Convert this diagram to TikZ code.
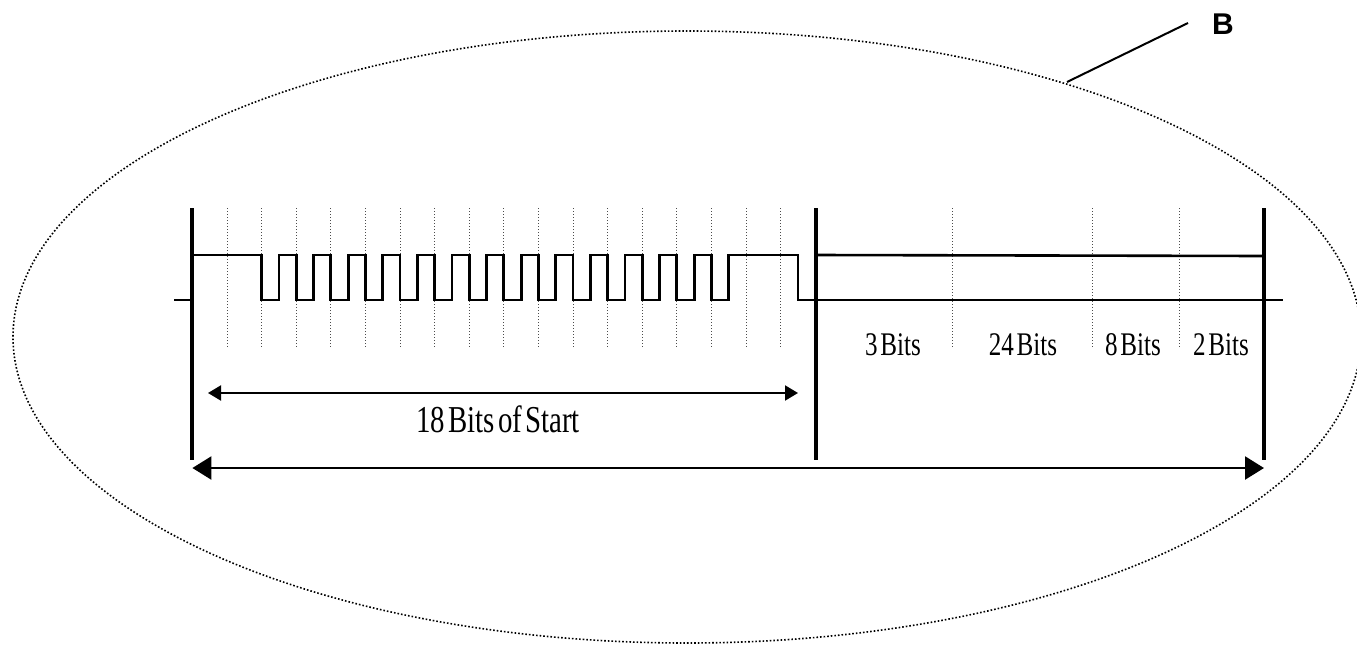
\documentclass[tikz,border=0pt]{standalone}
\usepackage{fontspec}
\setmainfont{Liberation Serif}
\newfontfamily\narrowserif[FakeStretch=0.76,WordSpace=0.45]{Liberation Serif}
\newfontfamily\labelsans{Liberation Sans}
\usetikzlibrary{arrows.meta}
\tikzset{
  bar/.style={line width=4pt},
  sig/.style={line width=2.8pt},
  grid/.style={line width=1pt,dotted,black!70},
  bits/.style={anchor=base,inner sep=0pt,font=\narrowserif\fontsize{33}{36}\selectfont},
  span/.style={line width=2pt,{Triangle[length=13pt,width=15pt]}-{Triangle[length=13pt,width=15pt]}},
  total/.style={line width=2.4pt,{Triangle[length=19pt,width=23pt]}-{Triangle[length=19pt,width=23pt]}}
}
\begin{document}
\begin{tikzpicture}[x=1pt,y=-1pt]
    \useasboundingbox (0,0) rectangle (1357,646);
    \draw[line width=1.6pt,dotted] (687,337) ellipse (674 and 306);
    % frame of the word
    \coordinate (S1) at (192.4,208); \coordinate (S2) at (192.4,460);
    \coordinate (M1) at (816,208);   \coordinate (M2) at (816,460);
    \coordinate (E1) at (1264,208);  \coordinate (E2) at (1264,460);
    \foreach \k in {1,...,17}
      \draw[grid] (192.4+\k*34.6,208) -- (192.4+\k*34.6,347);
    \foreach \x in {952,1092,1179}
      \draw[grid] (\x,208) -- (\x,347);
    \draw[line width=2.6pt] (174,300) -- (192.4,300);
    \draw[sig] (192.4,255) -- (261.6,255)
      \foreach \k in {2,...,15} { -- ++(0,45) -- ++(17.3,0) -- ++(0,-45) -- ++(17.3,0) }
      -- (798,255) -- (798,300) -- (816,300);
    \draw[line width=2.6pt] (816,255) -- (1264,256);
    \draw[line width=2.6pt] (816,300) -- (1283,300);
    \draw[bar] (S1) -- (S2); \draw[bar] (M1) -- (M2); \draw[bar] (E1) -- (E2);
    \node[bits] (f1) at (893,355) {3 Bits};
    \node[bits] (f2) at (1023,355) {24 Bits};
    \node[bits] (f3) at (1133,355) {8 Bits};
    \node[bits] (f4) at (1221,355) {2 Bits};
    \coordinate (A1) at (208,393); \coordinate (A2) at (798,393);
    \draw[span] (A1) -- (A2);
    \node[bits,font=\narrowserif\fontsize{38}{41}\selectfont] (start) at (498,432.7) {18 Bits of Start};
    \coordinate (T1) at (192.4,468); \coordinate (T2) at (1264,468);
    \draw[total] (T1) -- (T2);
    \node[font=\labelsans\bfseries\fontsize{30}{33}\selectfont] (B) at (1223,24) {B};
    \coordinate (lead) at (1067,82); \coordinate (tip) at (1188,23);
    \draw[line width=2pt] (lead) -- (tip);
\end{tikzpicture}
\end{document}
